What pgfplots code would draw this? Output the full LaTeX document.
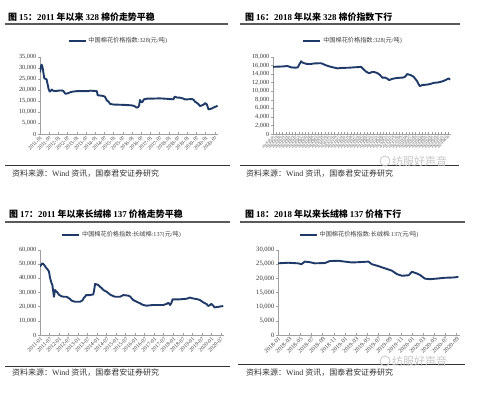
\documentclass[border=0pt]{standalone}
\usepackage{pgfplots}
\pgfplotsset{compat=1.18}
\usepgfplotslibrary{dateplot}
\usepackage{fontspec}
\setmainfont{Liberation Serif}
\newfontfamily\cjk{Noto Sans CJK SC}
\newcommand\C[1]{{\cjk #1}}
\newcommand\CB[1]{{\cjk\bfseries #1}}
\definecolor{navy}{HTML}{1F3A68}
\definecolor{rulegray}{HTML}{5A5A5A}
\pgfplotsset{
  panel/.style={
    scale only axis,
    axis x line*=bottom, axis y line*=left,
    axis line style={draw=gray!75, line width=0.6bp},
    tick style={draw=gray!75, line width=0.5bp},
    major tick length=2bp,
    xtick align=inside, ytick align=outside,
    ymin=0,
    /pgf/number format/assume math mode=true,
    /pgf/number format/1000 sep={,},
    yticklabel style={font=\fontsize{6.3}{6.3}\selectfont, text=black!80, inner sep=1.5bp},
    xticklabel style={rotate=45, anchor=north east, inner sep=1bp, text=black!75},
    scaled y ticks=false,
    legend style={draw=none, fill=none, font=\fontsize{6.2}{6.2}\selectfont, text=black!75, anchor=center, inner sep=0pt},
    legend image code/.code={\draw[navy, line width=1.9bp] (0bp,0bp) -- (17bp,0bp);},
  },
  ser/.style={navy, line width=1.9bp, line join=round, mark=none},
}
\begin{document}
\begin{tikzpicture}
\useasboundingbox (0,0) rectangle (478bp,-395bp);
% ---------- titles, rules, sources ----------
\begin{scope}[font=\fontsize{9}{9}\selectfont]
\node[anchor=west, inner sep=0] at (8bp,-17bp) {\CB{图 }\textbf{15}\CB{：}\textbf{2011}\CB{ 年以来 }\textbf{328}\CB{ 棉价走势平稳}};
\node[anchor=west, inner sep=0] at (245bp,-17bp) {\CB{图 }\textbf{16}\CB{：}\textbf{2018}\CB{ 年以来 }\textbf{328}\CB{ 棉价指数下行}};
\node[anchor=west, inner sep=0] at (9bp,-214bp) {\CB{图 }\textbf{17}\CB{：}\textbf{2011}\CB{ 年以来长绒棉 }\textbf{137}\CB{ 价格走势平稳}};
\node[anchor=west, inner sep=0] at (245bp,-214bp) {\CB{图 }\textbf{18}\CB{：}\textbf{2018}\CB{ 年以来长绒棉 }\textbf{137}\CB{ 价格下行}};
\end{scope}
\draw[rulegray, line width=1.3bp] (5bp,-24bp) -- (228bp,-24bp);
\draw[rulegray, line width=1.3bp] (240bp,-24bp) -- (460bp,-24bp);
\draw[rulegray, line width=1.3bp] (5bp,-222bp) -- (230bp,-222bp);
\draw[rulegray, line width=1.3bp] (240bp,-222bp) -- (465bp,-222bp);
\draw[black!80, line width=0.9bp] (5bp,-165bp) -- (230bp,-165bp);
\draw[black!80, line width=0.9bp] (240bp,-165bp) -- (459bp,-165bp);
\draw[black!80, line width=0.9bp] (5bp,-366bp) -- (230bp,-366bp);
\draw[black!80, line width=0.9bp] (238bp,-364bp) -- (465bp,-364bp);
\begin{scope}[font=\fontsize{8}{8}\selectfont, text=black!80]
\node[anchor=west, inner sep=0] at (12bp,-174bp) {\C{资料来源：}Wind \C{资讯，国泰君安证券研究}};
\node[anchor=west, inner sep=0] at (246bp,-174bp) {\C{资料来源：}Wind \C{资讯，国泰君安证券研究}};
\node[anchor=west, inner sep=0] at (12bp,-373bp) {\C{资料来源：}Wind \C{资讯，国泰君安证券研究}};
\node[anchor=west, inner sep=0] at (246bp,-373bp) {\C{资料来源：}Wind \C{资讯，国泰君安证券研究}};
\end{scope}
% watermarks
\node[anchor=west, inner sep=0, text=gray!45, font=\fontsize{11}{11}\selectfont] at (392bp,-161bp) {\C{纺服好声音}};
\node[anchor=west, inner sep=0, text=gray!45, font=\fontsize{11}{11}\selectfont] at (392bp,-361bp) {\C{纺服好声音}};
\draw[gray!45, line width=0.8bp] (385bp,-161bp) circle (5bp);
\draw[gray!45, line width=0.8bp] (385bp,-361bp) circle (5bp);

% ---------- Panel 1 ----------
\begin{axis}[panel, at={(40bp,-134bp)}, anchor=south west,
  width=178bp, height=77bp,
  xmin=0, xmax=116, ymax=35000,
  ytick={0,5000,...,35000},
  xtick={0,6,...,114},
  xticklabels={2011-01,2011-07,2012-01,2012-07,2013-01,2013-07,2014-01,2014-07,2015-01,2015-07,2016-01,2016-07,2017-01,2017-07,2018-01,2018-07,2019-01,2019-07,2020-01,2020-07},
  xticklabel style={font=\fontsize{5.3}{5.3}\selectfont},
  legend style={at={(0.44,1.21)}}]
\addplot[ser] coordinates {(0,28000) (0.5,30500) (1,31500) (1.4,31000) (1.8,29800) (2.3,27500) (2.8,25300) (3.5,25100) (4.3,24800) (5,22500) (5.6,20500) (6.1,19600) (6.6,19300) (7.2,19800) (7.7,20200) (8.5,19700) (9.8,19500) (11,19600) (13,19800) (15,19700) (15.8,19000) (16.5,18300) (17.5,18400) (18.5,18600) (19.5,18900) (20.7,19200) (22,19300) (24,19500) (28,19500) (31.5,19500) (32.6,19700) (35,19600) (37,19500) (37.6,17600) (39,17500) (41.3,17300) (42.5,16800) (43.5,15300) (44.5,14800) (45.7,13700) (47.8,13400) (52,13300) (56,13200) (60,13000) (61.5,12700) (63,12000) (64,12200) (64.6,13000) (65.2,15500) (65.8,14600) (66.6,14400) (67.8,15800) (69,15900) (69.6,16100) (74,16100) (78,16200) (82.6,16000) (86,15800) (87,15800) (87.5,16600) (88,17000) (89,16600) (91.3,16500) (93,16200) (94.6,15700) (97,15800) (99,15900) (100,15600) (101,14700) (102.6,14000) (103.5,13400) (104.3,12700) (105.5,13000) (106.5,13300) (107.6,14000) (108.7,13500) (109.3,12300) (109.8,11200) (111,11400) (112,11600) (113,12000) (114,12300) (115,12600) (115.7,12800)};
\addlegendentry{\C{中国棉花价格指数}:328(\C{元}/\C{吨})}
\end{axis}

% ---------- Panel 2 ----------
\begin{axis}[panel, at={(273bp,-134bp)}, anchor=south west,
  width=178bp, height=77bp,
  date coordinates in=x, date ZERO=2018-01-01,
  xmin=2018-01-01, xmax=2020-09-15, ymax=18000,
  ytick={0,2000,...,18000},
  xtick distance=18,
  xticklabel={\year-\month-\day},
  xticklabel style={font=\fontsize{3.4}{3.4}\selectfont},
  legend style={at={(0.45,1.21)}}]
\addplot[ser] coordinates {(2018-01-02,15700) (2018-02-01,15750) (2018-03-01,15800) (2018-03-22,15900) (2018-04-10,15600) (2018-05-01,15500) (2018-05-18,15550) (2018-05-25,16100) (2018-06-06,17000) (2018-06-12,16750) (2018-06-20,16600) (2018-07-05,16400) (2018-07-25,16350) (2018-08-20,16500) (2018-09-25,16550) (2018-10-20,16100) (2018-11-10,15800) (2018-11-28,15600) (2018-12-25,15350) (2019-01-20,15450) (2019-02-28,15500) (2019-04-01,15600) (2019-04-25,15650) (2019-05-05,15700) (2019-05-13,15350) (2019-06-01,14600) (2019-06-18,14200) (2019-07-05,14500) (2019-07-20,14450) (2019-08-05,14200) (2019-08-15,13900) (2019-09-01,13150) (2019-09-15,13200) (2019-09-25,13000) (2019-10-08,12600) (2019-10-25,12900) (2019-11-20,13100) (2019-12-25,13200) (2020-01-05,13400) (2020-01-15,14000) (2020-02-03,13800) (2020-02-20,13400) (2020-03-10,12400) (2020-03-25,11200) (2020-04-10,11450) (2020-05-05,11550) (2020-05-25,11700) (2020-06-10,11950) (2020-07-05,12050) (2020-07-20,12200) (2020-08-05,12400) (2020-08-20,12700) (2020-09-02,13000) (2020-09-10,12700)};
\addlegendentry{\C{中国棉花价格指数}:328(\C{元}/\C{吨})}
\end{axis}

% ---------- Panel 3 ----------
\begin{axis}[panel, at={(40bp,-335bp)}, anchor=south west,
  width=184bp, height=85bp,
  xmin=0, xmax=116, ymax=60000,
  ytick={0,10000,...,60000},
  xtick={0,6,...,114},
  xticklabels={2011-01,2011-07,2012-01,2012-07,2013-01,2013-07,2014-01,2014-07,2015-01,2015-07,2016-01,2016-07,2017-01,2017-07,2018-01,2018-07,2019-01,2019-07,2020-01,2020-07},
  xticklabel style={font=\fontsize{5.6}{5.6}\selectfont},
  legend style={at={(0.446,1.18)}}]
\addplot[ser] coordinates {(0,48200) (0.7,49500) (1.5,50600) (2.2,50000) (2.7,49400) (3.5,48000) (4.2,47000) (5,46000) (5.7,44700) (6.2,41000) (6.7,38800) (7.3,36500) (7.8,35300) (8.3,31000) (8.8,27000) (9.2,30000) (9.5,31800) (10,31000) (10.5,30600) (11.3,29500) (12.2,28200) (13.5,27400) (14.7,27000) (16.8,27000) (17.8,26300) (18.9,25400) (20,24200) (22,23500) (25.2,23500) (26.2,24000) (26.9,24700) (27.8,26500) (28.4,27000) (29,28200) (31.5,28200) (33.6,28700) (34.2,32000) (34.7,36000) (35.5,35800) (36.8,35300) (37.8,34100) (39,33000) (39.9,31800) (42,30600) (44,28700) (45.5,27800) (47.3,27000) (50.4,27000) (52.5,28200) (55.7,27800) (57,27000) (57.8,25900) (58.8,24700) (61,23500) (63,22400) (65,21200) (67.2,20700) (71.4,21200) (77.7,21200) (79.8,21900) (80.9,22800) (81.5,22000) (82,21200) (82.8,22500) (83.6,25200) (88.2,25200) (92.4,25600) (94.5,26400) (96.5,25800) (98.7,25400) (100.8,24700) (103,23000) (105,21900) (106,20500) (107,21000) (108,21900) (109,21000) (110,19500) (111.5,19700) (113,20000) (115.5,20500)};
\addlegendentry{\C{中国棉花价格指数}:\C{长绒棉}:137(\C{元}/\C{吨})}
\end{axis}

% ---------- Panel 4 ----------
\begin{axis}[panel, at={(278bp,-335bp)}, anchor=south west,
  width=182bp, height=85bp,
  xmin=0, xmax=32.6, ymax=30000,
  ytick={0,5000,...,30000},
  yticklabel style={font=\fontsize{6.6}{6.6}\selectfont},
  xtick={0,2,...,32},
  xticklabels={2018-01,2018-03,2018-05,2018-07,2018-09,2018-11,2019-01,2019-03,2019-05,2019-07,2019-09,2019-11,2020-01,2020-03,2020-05,2020-07,2020-09},
  xticklabel style={font=\fontsize{6}{6}\selectfont},
  legend style={at={(0.448,1.18)}}]
\addplot[ser] coordinates {(0,25300) (1.8,25500) (3.6,25300) (4.2,25000) (4.8,25900) (5.7,25700) (6.6,25300) (8.4,25400) (9.3,26100) (10.8,26200) (12,25900) (13.2,25600) (14.4,25700) (16.2,25900) (16.8,25000) (18,24300) (19.2,23500) (20.4,22700) (21.3,21500) (22.2,20900) (23.4,21100) (24,22300) (24.9,21700) (25.5,21100) (26.3,19900) (27.2,19700) (28.4,19900) (29.9,20200) (31.4,20300) (32.3,20500)};
\addlegendentry{\C{中国棉花价格指数}:\C{长绒棉}:137(\C{元}/\C{吨})}
\end{axis}
\end{tikzpicture}
\end{document}
